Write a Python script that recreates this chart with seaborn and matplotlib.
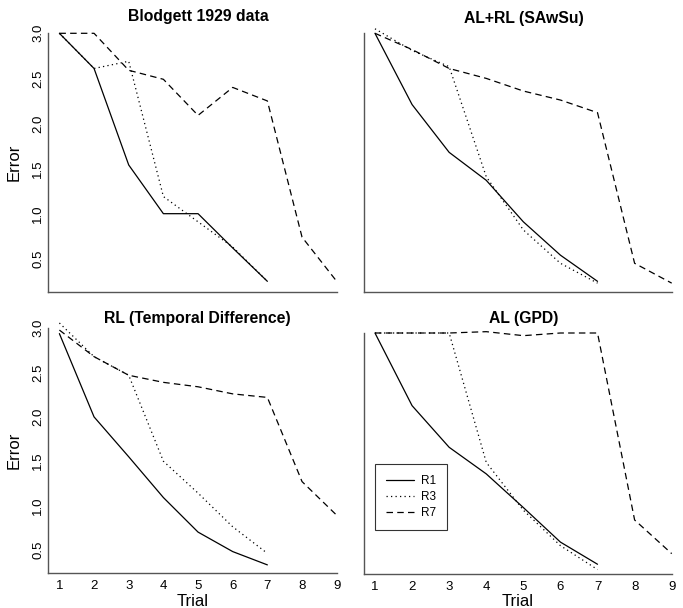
import pandas as pd
import matplotlib
matplotlib.use("Agg")
import matplotlib.pyplot as plt
import seaborn as sns

# values
trials = [1, 2, 3, 4, 5, 6, 7, 8, 9]
series_names = ["R1", "R3", "R7"]

blodgett_r1 = [3.0, 2.61, 1.54, 1.0, 1.0, 0.62, 0.25]
blodgett_r3 = [3.0, 2.61, 2.69, 1.19, 0.91, 0.63, 0.25]
blodgett_r7 = [3.0, 3.0, 2.59, 2.49, 2.09, 2.40, 2.25, 0.74, 0.25]

sawsu_r1 = [3.0, 2.21, 1.68, 1.37, 0.91, 0.54, 0.25]
sawsu_r3 = [3.05, 2.81, 2.63, 1.41, 0.82, 0.45, 0.23]
sawsu_r7 = [3.0, 2.82, 2.61, 2.50, 2.36, 2.26, 2.12, 0.45, 0.23]

td_r1 = [2.94, 2.0, 1.55, 1.09, 0.70, 0.48, 0.33]
td_r3 = [3.06, 2.68, 2.47, 1.50, 1.14, 0.76, 0.46]
td_r7 = [2.98, 2.68, 2.47, 2.39, 2.34, 2.26, 2.22, 1.27, 0.89]

gpd_r1 = [3.0, 2.18, 1.71, 1.41, 1.03, 0.64, 0.39]
gpd_r3 = [3.0, 3.0, 3.0, 1.54, 1.0, 0.60, 0.33]
gpd_r7 = [3.0, 3.0, 3.0, 3.015, 2.97, 3.0, 3.0, 0.89, 0.51]

panel_titles = ["Blodgett 1929 data", "AL+RL (SAwSu)",
                "RL (Temporal Difference)", "AL (GPD)"]
y_ticks = [0.5, 1.0, 1.5, 2.0, 2.5, 3.0]


def long_frame(r1, r3, r7):
    rows = []
    for name, vals in zip(series_names, [r1, r3, r7]):
        for t, v in zip(trials, vals):
            rows.append({"Trial": t, "Error": v, "Series": name})
    return pd.DataFrame(rows)


panels = [
    long_frame(blodgett_r1, blodgett_r3, blodgett_r7),
    long_frame(sawsu_r1, sawsu_r3, sawsu_r7),
    long_frame(td_r1, td_r3, td_r7),
    long_frame(gpd_r1, gpd_r3, gpd_r7),
]

sns.set_style("white")
plt.rcParams["font.family"] = ["Liberation Sans", "DejaVu Sans"]
plt.rcParams["text.color"] = "black"
plt.rcParams["axes.labelcolor"] = "black"

W, H = 683, 608
fig = plt.figure(figsize=(W / 100, H / 100), dpi=100)

# axes boxes in pixels: left, top, right, bottom
boxes = [(48.3, 33.3, 336.7, 291.7), (364, 33.3, 671.7, 291.7),
         (48.3, 328.3, 336.7, 573.3), (364, 333, 671.7, 574)]
xlims = [(0.68, 9.0), (0.704, 9.0), (0.68, 9.0), (0.704, 9.0)]
ylims = [(0.135, 3.0), (0.135, 3.0), (0.235, 3.0), (0.28, 3.0)]
title_pos = [(198, 21), (524, 23), (197, 323), (524, 323)]

dash_map = {"R1": "", "R3": (1, 2.6), "R7": (5.2, 3.4)}

for i, df in enumerate(panels):
    l, t, r, b = boxes[i]
    ax = fig.add_axes([l / W, 1 - b / H, (r - l) / W, (b - t) / H])
    sns.lineplot(data=df, x="Trial", y="Error", style="Series",
                 dashes=dash_map, color="black", linewidth=0.9,
                 errorbar=None, legend=False, ax=ax)
    for ln in ax.lines:
        ln.set_clip_on(False)
    ax.set_xlim(*xlims[i])
    ax.set_ylim(*ylims[i])
    for s in ["top", "right"]:
        ax.spines[s].set_visible(False)
    for s in ["left", "bottom"]:
        ax.spines[s].set_color("#555555")
        ax.spines[s].set_linewidth(1.0)
    ax.tick_params(length=0, labelsize=9.5, colors="black")
    ax.set_xticks(trials)
    ax.set_yticks(y_ticks)
    if i >= 2:
        ax.set_xlabel("Trial", fontsize=12)
        ax.xaxis.set_label_coords(0.5, -0.085)
        ax.tick_params(axis="x", pad=5)
    else:
        ax.set_xticklabels([])
        ax.set_xlabel("")
    if i % 2 == 0:
        ax.set_ylabel("Error", fontsize=12)
        ax.yaxis.set_label_coords(-0.091, 0.5)
        ax.tick_params(axis="y", pad=3)
        for lab in ax.get_yticklabels():
            lab.set_rotation(90)
            lab.set_va("center")
    else:
        ax.set_yticklabels([])
        ax.set_ylabel("")
    tx, ty = title_pos[i]
    fig.text(tx / W, 1 - ty / H, panel_titles[i], ha="center", va="baseline",
             fontsize=11.3, fontweight="bold", color="black")

    if i == 3:
        handles = ax.lines[:3]
        leg = ax.legend(handles, series_names, loc="upper left",
                        bbox_to_anchor=(0.036, 0.456), frameon=True,
                        fancybox=False, edgecolor="black", fontsize=8.5,
                        handlelength=2.4, handletextpad=0.6,
                        labelspacing=0.35, borderpad=0.9, borderaxespad=0)
        leg.get_frame().set_linewidth(0.8)
        for txt in leg.get_texts():
            txt.set_color("black")

fig.savefig("out.png", dpi=100)
